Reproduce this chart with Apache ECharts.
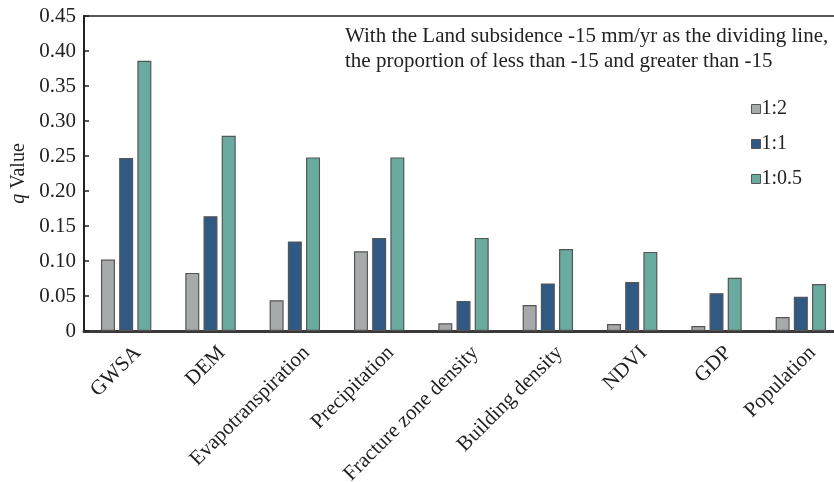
<!DOCTYPE html>
<html>
<head>
<meta charset="utf-8">
<script src="https://cdn.jsdelivr.net/npm/echarts@6/dist/echarts.min.js"></script>
<style>
  html, body { margin: 0; padding: 0; background: #ffffff; }
  #chart { width: 834px; height: 482px; }
</style>
</head>
<body>
<div id="chart"></div>
<script>
// Factors driving land subsidence, q value of each factor per ratio
const categories = ['GWSA', 'DEM', 'Evapotranspiration', 'Precipitation', 'Fracture zone density',
  'Building density', 'NDVI', 'GDP', 'Population'];
const seriesNames = ['1:2', '1:1', '1:0.5'];
const ratio1to2 = [0.102, 0.083, 0.044, 0.114, 0.011, 0.037, 0.010, 0.007, 0.020];
const ratio1to1 = [0.247, 0.164, 0.128, 0.133, 0.043, 0.068, 0.070, 0.054, 0.049];
const ratio1to05 = [0.386, 0.279, 0.248, 0.248, 0.133, 0.117, 0.113, 0.076, 0.067];
const yTicks = { min: 0, max: 0.45, interval: 0.05 };
const noteText = 'With the Land subsidence -15 mm/yr as the dividing line,\nthe proportion of less than -15 and greater than -15';

const colors = ['#a7aaab', '#305a84', '#6aaba0'];
const serif = '"Liberation Serif", "DejaVu Serif", serif';

const chart = echarts.init(document.getElementById('chart'), null, { renderer: 'canvas' });

function barSeries(name, data, color) {
  return {
    name: name,
    type: 'bar',
    data: data,
    barWidth: 14,
    barGap: '30%',
    itemStyle: { color: color, borderColor: '#555555', borderWidth: 1.2 }
  };
}

chart.setOption({
  animation: false,
  backgroundColor: '#ffffff',
  color: colors,
  textStyle: { fontFamily: serif },
  title: {
    text: noteText,
    left: 340,
    top: 19,
    textStyle: { fontFamily: serif, fontSize: 21, fontWeight: 'normal', color: '#222222', lineHeight: 25 }
  },
  legend: {
    orient: 'vertical',
    left: 746,
    top: 94,
    itemWidth: 9,
    itemHeight: 9,
    itemGap: 15,
    icon: 'rect',
    data: seriesNames,
    itemStyle: { borderColor: '#555555', borderWidth: 1 },
    textStyle: { fontFamily: serif, fontSize: 20, color: '#222222', padding: [0, 0, 0, -4] }
  },
  grid: {
    left: 84,
    width: 759,
    top: 16,
    height: 315,
    containLabel: false,
    outerBoundsMode: 'none',
    show: true,
    borderColor: '#222222',
    borderWidth: 1.5,
    backgroundColor: 'transparent'
  },
  xAxis: {
    type: 'category',
    data: categories,
    axisLine: { lineStyle: { color: '#3a3a3a', width: 3 } },
    axisTick: { show: false },
    axisLabel: {
      rotate: 45,
      margin: 7,
      interval: 0,
      verticalAlign: 'top',
      padding: [6, 0, 0, 0],
      fontFamily: serif,
      fontSize: 21,
      color: '#222222'
    }
  },
  yAxis: {
    type: 'value',
    min: yTicks.min,
    max: yTicks.max,
    interval: yTicks.interval,
    name: '{i|q} Value',
    nameLocation: 'middle',
    nameGap: 45,
    nameRotate: 90,
    nameTextStyle: {
      fontFamily: serif,
      fontSize: 20,
      color: '#222222',
      rich: { i: { fontFamily: serif, fontSize: 20, fontStyle: 'italic', color: '#222222' } }
    },
    splitLine: { show: false },
    axisLine: { show: true, lineStyle: { color: '#222222', width: 2 } },
    axisTick: { show: true, inside: true, length: 5, lineStyle: { color: '#222222', width: 1.5 } },
    axisLabel: {
      margin: 8,
      fontFamily: serif,
      fontSize: 21,
      color: '#222222',
      formatter: function (v) { return v === 0 ? '0' : v.toFixed(2); }
    }
  },
  series: [
    barSeries(seriesNames[0], ratio1to2, colors[0]),
    barSeries(seriesNames[1], ratio1to1, colors[1]),
    barSeries(seriesNames[2], ratio1to05, colors[2])
  ]
});
</script>
</body>
</html>
